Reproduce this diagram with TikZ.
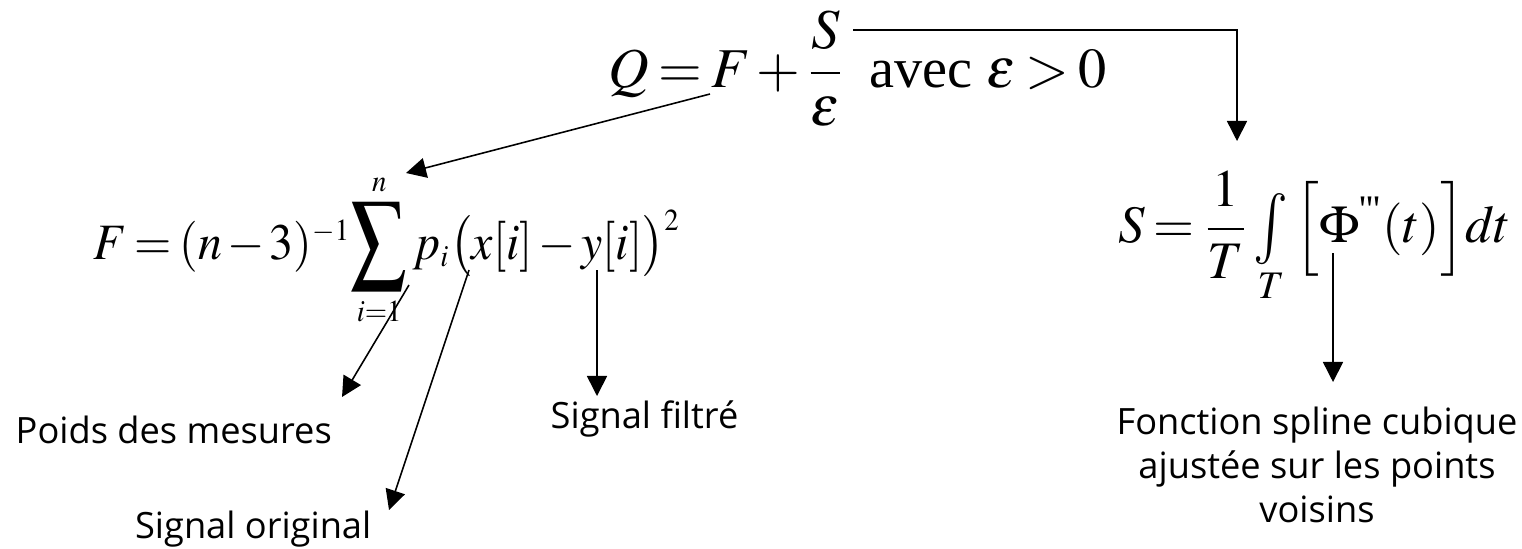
\documentclass[tikz,border=0pt]{standalone}
\usepackage{mathptmx}
\usepackage{amsmath}
\usepackage{graphicx}
\usepackage{fontspec}
\setmainfont{Liberation Serif}
\newfontfamily\labelfont{Open Sans}
\usetikzlibrary{arrows.meta,positioning}
\newcommand\tightmath{\medmuskip=2mu\thickmuskip=3mu}
\newcommand\sm[1]{{\scriptscriptstyle #1}}
\newcommand\bigsum{\mathop{\vcenter{\hbox{\scalebox{1.15}[1.4]{$\displaystyle\sum$}}}}\limits}
\newcommand\bigint{\mathop{\vcenter{\hbox{\scalebox{1.1}[1.35]{$\int$}}}}\limits}
\newcommand\tierce{^{\text{\textquotesingle\textquotesingle\textquotesingle}}}

\begin{document}
\begin{tikzpicture}[x=0.01cm,y=-0.01cm,
  formula/.style={inner sep=0pt,outer sep=0pt,execute at begin node=\tightmath},
  legend/.style={inner sep=0pt,font=\labelfont\fontsize{10.3}{12.6}\selectfont,
    align=center},
  arr/.style={-{Triangle[length=2mm,width=2mm]},line width=0.45pt}
]
\useasboundingbox (0,0) rectangle (1522,548);
\node[formula,anchor=base west,font=\fontsize{16}{20}\selectfont] (qeq) at (608,87)
  {$Q = F + \dfrac{S}{\varepsilon}$\hskip0.45em avec $\varepsilon > 0$};
\node[formula,anchor=base west,font=\fontsize{14.5}{18}\selectfont] (feq) at (93,259)
  {\scalebox{0.94}[1]{$F = (n-3)^{\sm{-1}}\!\bigsum_{\sm{i=1}}^{\sm{n}}
    p_{\sm{i}}\bigl(x[i]-y[i]\bigr)^{\sm{2}}$}};
\node[formula,anchor=base west,font=\fontsize{15}{19}\selectfont] (seq) at (1118,242)
  {$S = \dfrac{1}{T}\bigint_T\,\Bigl[\Phi\tierce(t)\Bigr]dt$};
\node[legend,anchor=base west] (poids) at (15,443) {Poids des mesures};
\node[legend,anchor=base east] (orig) at (372,538) {Signal original};
\node[legend,anchor=base west] (filt) at (550,428) {Signal filtré};
\node[legend,anchor=north] (spline) at (1317,406)
  {Fonction spline cubique\\ajustée sur les points\\voisins};
\coordinate (qF) at (710,94);
\coordinate (qS) at (853,30);
\coordinate (fTop) at (406,173);
\coordinate (sTop) at (1237,141);
\coordinate (fSum) at (409,285);
\coordinate (fX) at (469,270);
\coordinate (fY) at (597,270);
\coordinate (sPhi) at (1333,253);
\coordinate (poidsTip) at (342,397);
\coordinate (origTip) at (389,510);
\coordinate (filtTip) at (597,396);
\coordinate (splineTip) at (1333,382);
\draw[arr] (qF) -- (fTop);
\draw[arr] (qS) -| (sTop);
\draw[arr] (fSum) -- (poidsTip);
\draw[arr] (fX) -- (origTip);
\draw[arr] (fY) -- (filtTip);
\draw[arr] (sPhi) -- (splineTip);
\end{tikzpicture}
\end{document}
